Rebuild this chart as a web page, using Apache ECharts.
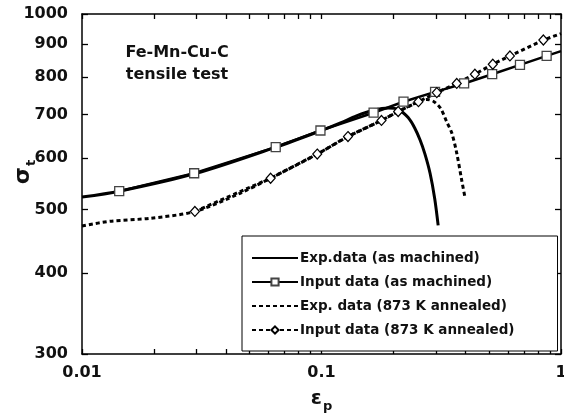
<!DOCTYPE html>
<html>
<head>
<meta charset="utf-8">
<script src="https://cdn.jsdelivr.net/npm/echarts@6/dist/echarts.min.js"></script>
<style>
html,body{margin:0;padding:0;background:#fff;}
#chart{width:564px;height:414px;}
</style>
</head>
<body>
<div id="chart"></div>
<script>
// ---- data ----
const xTickValues = [0.01,0.02,0.03,0.04,0.05,0.06,0.07,0.08,0.09,0.1,0.2,0.3,0.4,0.5,0.6,0.7,0.8,0.9,1];
const xLabelValues = [0.01, 0.1, 1];
const xLabelTexts = ['0.01', '0.1', '1'];
const yTickValues = [300, 400, 500, 600, 700, 800, 900, 1000];
const yLabelTexts = ['300', '400', '500', '600', '700', '800', '900', '1000'];

const seriesNames = ['Exp.data (as machined)', 'Input data (as machined)', 'Exp. data (873 K annealed)', 'Input data (873 K annealed)'];

const expMachinedX = [0.01, 0.0143, 0.03, 0.0644, 0.1, 0.12, 0.14, 0.165, 0.19, 0.21, 0.23, 0.245, 0.258, 0.27, 0.284, 0.297, 0.307];
const expMachinedY = [523, 534, 569, 624, 662, 680, 697, 711, 717, 713, 693, 668, 640, 610, 569, 520, 473];

const inputMachinedX = [0.0143, 0.0294, 0.0644, 0.099, 0.165, 0.22, 0.298, 0.394, 0.516, 0.674, 0.871, 1];
const inputMachinedY = [534, 569, 624, 662, 705, 733, 759, 782, 808, 835, 862, 877];

const expAnnealedX = [0.01, 0.0131, 0.0192, 0.0296, 0.0457, 0.0613, 0.096, 0.129, 0.178, 0.209, 0.254, 0.275, 0.295, 0.315, 0.333, 0.35, 0.367, 0.385, 0.397];
const expAnnealedY = [472, 480, 485, 497, 530, 559, 609, 648, 686, 708, 733, 739, 733, 715, 683, 656, 611, 555, 523];

const inputAnnealedX = [0.0296, 0.0613, 0.096, 0.129, 0.178, 0.209, 0.254, 0.303, 0.367, 0.437, 0.519, 0.612, 0.844, 1];
const inputAnnealedY = [497, 559, 609, 648, 686, 708, 733, 757, 782, 808, 837, 862, 912, 933];

// ---- chart ----
const FONT = 'DejaVu Sans';
function pairs(xs, ys) { return xs.map((x, i) => [x, ys[i]]); }
function noEndSymbol(arr, size) {
  return (v, p) => (p.dataIndex === arr.length - 1 ? 0 : size);
}

const chart = echarts.init(document.getElementById('chart'));

function xAxisCfg(pos, withLabels) {
  const cfg = {
    type: 'log', min: 0.01, max: 1, position: pos,
    axisLine: { show: true, lineStyle: { color: '#000', width: 1.5 } },
    axisTick: { show: true, inside: true, length: 5, customValues: xTickValues, lineStyle: { color: '#000', width: 1.3 } },
    splitLine: { show: false },
    axisLabel: { show: false }
  };
  if (withLabels) {
    cfg.axisLabel = {
      show: true, customValues: xLabelValues, margin: 11,
      fontFamily: FONT, fontWeight: 'bold', fontSize: 16, color: '#111',
      formatter: (v) => { const i = xLabelValues.findIndex(t => Math.abs(t - v) / t < 1e-6); return i >= 0 ? xLabelTexts[i] : ''; }
    };
    cfg.name = '{e|ε}{p|p}';
    cfg.nameLocation = 'middle';
    cfg.nameGap = 30;
    cfg.nameMoveOverlap = false;
    cfg.nameTextStyle = {
      rich: {
        e: { fontFamily: FONT, fontWeight: 'bold', fontSize: 20, color: '#111' },
        p: { fontFamily: FONT, fontWeight: 'bold', fontSize: 13, color: '#111', padding: [16, 0, 0, 1] }
      }
    };
  }
  return cfg;
}
function yAxisCfg(pos, withLabels) {
  const cfg = {
    type: 'log', min: 300, max: 1000, position: pos,
    axisLine: { show: true, lineStyle: { color: '#000', width: 1.5 } },
    axisTick: { show: true, inside: true, length: 6, customValues: yTickValues, lineStyle: { color: '#000', width: 1.3 } },
    splitLine: { show: false },
    axisLabel: { show: false }
  };
  if (withLabels) {
    cfg.axisLabel = {
      show: true, customValues: yTickValues, margin: 14,
      fontFamily: FONT, fontWeight: 'bold', fontSize: 16, color: '#111',
      formatter: (v) => { const i = yTickValues.findIndex(t => Math.abs(t - v) / t < 1e-6); return i >= 0 ? yLabelTexts[i] : ''; }
    };
    cfg.name = '{s|σ}{t|t}';
    cfg.nameLocation = 'middle';
    cfg.nameGap = 44;
    cfg.nameMoveOverlap = false;
    cfg.nameTextStyle = {
      padding: [0, 0, 0, 24],
      rich: {
        s: { fontFamily: FONT, fontWeight: 'bold', fontSize: 22, color: '#111' },
        t: { fontFamily: FONT, fontWeight: 'bold', fontSize: 13, color: '#111', padding: [16, 0, 0, 1] }
      }
    };
  }
  return cfg;
}

const hiddenMark = { color: 'rgba(0,0,0,0)', borderColor: 'rgba(0,0,0,0)', borderWidth: 0 };

const option = {
  backgroundColor: '#fff',
  animation: false,
  title: {
    text: 'Fe-Mn-Cu-C\ntensile test',
    left: 177, top: 42, padding: 0,
    textAlign: 'center',
    textStyle: { fontFamily: FONT, fontWeight: 'bold', fontSize: 16, lineHeight: 22, color: '#111' }
  },
  grid: { left: 82, right: 3, top: 14, bottom: 60, outerBoundsMode: 'none' },
  legend: {
    orient: 'vertical', left: 242, top: 236,
    backgroundColor: '#fff',
    borderColor: '#000', borderWidth: 1,
    padding: [15, 43, 14, 9],
    itemWidth: 46, itemHeight: 9, itemGap: 10,
    textStyle: { fontFamily: FONT, fontWeight: 'bold', fontSize: 13.5, color: '#111', padding: [0, 0, 0, -3] },
    data: [
      { name: seriesNames[0], itemStyle: hiddenMark },
      { name: seriesNames[1] },
      { name: seriesNames[2], itemStyle: hiddenMark },
      { name: seriesNames[3] }
    ]
  },
  xAxis: [xAxisCfg('bottom', true), xAxisCfg('top', false)],
  yAxis: [yAxisCfg('left', true), yAxisCfg('right', false)],
  series: [
    {
      name: seriesNames[0], type: 'line', xAxisIndex: 0, yAxisIndex: 0,
      data: pairs(expMachinedX, expMachinedY),
      showSymbol: false, symbol: 'none', smooth: 0.3,
      lineStyle: { color: '#000', width: 3, type: 'solid' },
      itemStyle: { color: '#000' }, z: 3
    },
    {
      name: seriesNames[1], type: 'line', xAxisIndex: 0, yAxisIndex: 0,
      data: pairs(inputMachinedX, inputMachinedY),
      symbol: 'rect', symbolSize: noEndSymbol(inputMachinedX, 9), showAllSymbol: true,
      lineStyle: { color: '#000', width: 2.5, type: 'solid' },
      itemStyle: { color: '#fff', borderColor: '#444', borderWidth: 1.3 }, z: 4
    },
    {
      name: seriesNames[2], type: 'line', xAxisIndex: 0, yAxisIndex: 0,
      data: pairs(expAnnealedX, expAnnealedY),
      showSymbol: false, symbol: 'none', smooth: 0.3,
      lineStyle: { color: '#000', width: 3, type: [4, 3] },
      itemStyle: { color: '#000' }, z: 3
    },
    {
      name: seriesNames[3], type: 'line', xAxisIndex: 0, yAxisIndex: 0,
      data: pairs(inputAnnealedX, inputAnnealedY),
      symbol: 'diamond', symbolSize: noEndSymbol(inputAnnealedX, [9, 10]), showAllSymbol: true,
      lineStyle: { color: '#000', width: 3, type: [4, 3] },
      itemStyle: { color: '#fff', borderColor: '#000', borderWidth: 1.2 }, z: 4
    }
  ]
};
chart.setOption(option);
</script>
</body>
</html>
